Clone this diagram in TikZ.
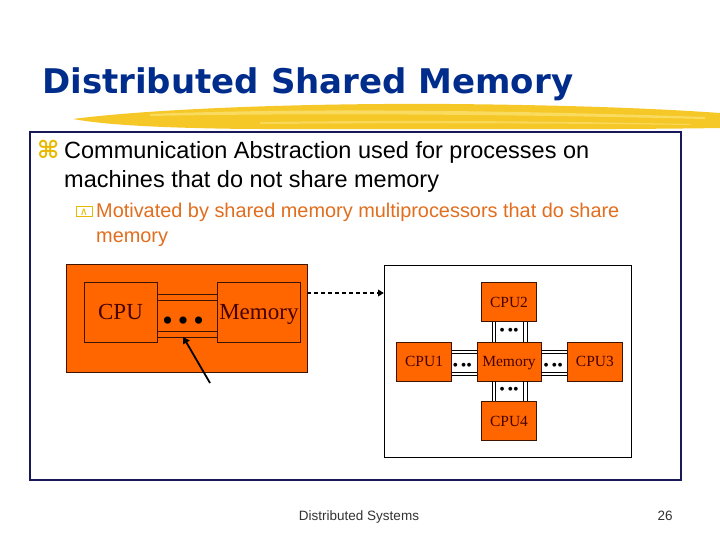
\documentclass[tikz,border=0pt]{standalone}
\usepackage{fontspec}
\setmainfont{Liberation Sans}
\newfontfamily\titlefont{DejaVu Sans}
\newfontfamily\symfont{DejaVu Sans}
\newfontfamily\boxfont{Liberation Serif}
\usepackage{tikz}
\usetikzlibrary{calc,positioning}
\usetikzlibrary{arrows.meta}
\definecolor{titleblue}{RGB}{0,45,140}
\definecolor{framenavy}{RGB}{25,25,90}
\definecolor{chiporange}{RGB}{255,102,0}
\definecolor{boxline}{RGB}{60,20,0}
\definecolor{boxtext}{RGB}{70,0,0}
\definecolor{subtext}{RGB}{225,110,30}
\definecolor{bulletgold}{RGB}{232,185,0}
\definecolor{brushyellow}{RGB}{245,200,40}
\definecolor{brushlight}{RGB}{252,228,120}
\tikzset{
    big chip/.style={
        draw=boxline,fill=chiporange,text=boxtext,
        minimum height=60pt,inner sep=0pt,
        text height=15pt,text depth=0pt,
        font=\boxfont\fontsize{23}{24}\selectfont
    },
    small chip/.style={
        draw=boxline,fill=chiporange,text=boxtext,
        minimum width=55pt,minimum height=39pt,inner sep=0pt,
        text height=10.3pt,text depth=0pt,
        font=\boxfont\fontsize{15.5}{16}\selectfont
    },
    bus wire/.style={draw=boxline,line width=0.9pt},
    thin wire/.style={draw=black,line width=0.8pt},
    dots/.style={inner sep=0pt,font=\boxfont\fontsize{#1}{#1}\selectfont},
    >={[scale=0.8]Triangle}
}
\begin{document}
\begin{tikzpicture}[x=1pt,y=-1pt]
\useasboundingbox[fill=white] (0,0) rectangle (720,540);
% title and brush stroke
\fill[brushyellow] (73,119) .. controls (150,109) and (300,103) .. (450,104)
    .. controls (560,105) and (650,108) .. (720,113) -- (720,128)
    .. controls (600,130) and (400,129) .. (250,129)
    .. controls (150,128) and (100,124) .. (73,119) -- cycle;
\fill[brushlight,opacity=.7] (150,114) .. controls (300,108) and (500,110) .. (705,117)
    -- (705,119) .. controls (500,114) and (300,113) .. (150,116) -- cycle;
\fill[brushlight,opacity=.6] (260,122) .. controls (400,120) and (550,121) .. (690,124)
    -- (690,125) .. controls (550,123) and (400,123) .. (260,124) -- cycle;
\node[anchor=base west,inner sep=0pt,text=titleblue,
    font=\titlefont\bfseries\fontsize{34}{36}\selectfont] (title) at (42,94) {Distributed Shared Memory};
% text frame
\draw[framenavy,line width=1.2pt] (30,132) rectangle (681,480);
\node[anchor=base west,inner sep=0pt,text=bulletgold,font=\symfont\bfseries\fontsize{24}{26}\selectfont] (mark) at (37,159) {⌘};
\node[anchor=base west,inner sep=0pt,font=\fontsize{23.5}{29}\selectfont] (line1) at (64,159) {Communication Abstraction used for processes on};
\node[anchor=base west,inner sep=0pt,font=\fontsize{23.5}{29}\selectfont] (line2) at (64,188) {machines that do not share memory};
\node[draw=bulletgold,line width=1pt,minimum width=16pt,minimum height=10pt,inner sep=0pt,
    text=bulletgold,font=\symfont\fontsize{11}{11}\selectfont] (submark) at (84,212) {∧};
\node[anchor=base west,inner sep=0pt,text=subtext,font=\fontsize{19.9}{24}\selectfont] (sub1) at (96,218) {Motivated by shared memory multiprocessors that do share};
\node[anchor=base west,inner sep=0pt,text=subtext,font=\fontsize{19.9}{24}\selectfont] (sub2) at (96,242) {memory};
% single machine
\node[draw=boxline,fill=chiporange,minimum width=241pt,minimum height=108pt] (machine) at (186.5,318) {};
\node[big chip,minimum width=73pt] (cpu) at (120.5,312) {CPU};
\node[big chip,minimum width=83pt,right=60pt of cpu] (mem) {Memory};
\foreach \off in {18pt,12pt,-19pt,-25pt}
    \draw[bus wire] ([yshift=\off]cpu.east) -- ([yshift=\off]cpu.east -| mem.west);
\node[dots=30] (ldots) at ($(cpu.east)!0.5!(mem.west)+(-4,12)$) {\textbullet\,\textbullet\,\textbullet};
\coordinate (tail) at (210,383);
\draw[line width=1.8pt,->] (tail) -- ([yshift=-13pt]ldots.center);
% multiprocessor
\node[draw,fill=white,minimum width=247pt,minimum height=192pt] (cluster) at (507.5,361) {};
\node[small chip,minimum width=64pt] (smem) at (509,361.5) {Memory};
\node[small chip,above=20pt of smem] (cputwo) {CPU2};
\node[small chip,left=25pt of smem] (cpuone) {CPU1};
\node[small chip,right=26pt of smem] (cputhree) {CPU3};
\node[small chip,below=20pt of smem] (cpufour) {CPU4};
\foreach \a/\b in {cpuone.east/smem.west,smem.east/cputhree.west}
    \foreach \off in {11.5pt,8.5pt,-10.5pt,-13.5pt}
        \draw[thin wire] ([yshift=\off]\a) -- ([yshift=\off]\a -| \b);
\foreach \a/\b in {smem.north/cputwo.south,smem.south/cpufour.north}
    \foreach \off in {-17pt,-14pt,14pt,18pt}
        \draw[thin wire] ([xshift=\off]\a) -- ([xshift=\off]\a |- \b);
\node[dots=16] at ($(cpuone.east)!0.5!(smem.west)+(-2,5)$) {\textbullet\,\textbullet\textbullet};
\node[dots=16] at ($(smem.east)!0.5!(cputhree.west)+(-1,5)$) {\textbullet\,\textbullet\textbullet};
\node[dots=16] at ($(cputwo.south)!0.5!(smem.north)$) {\textbullet\,\textbullet\textbullet};
\node[dots=16] at ($(smem.south)!0.5!(cpufour.north)$) {\textbullet\,\textbullet\textbullet};
\draw[line width=1.5pt,dash pattern=on 4pt off 3pt,->] ([yshift=25pt]machine.east) -- ([yshift=25pt]machine.east -| cluster.west);
% footer
\node[anchor=base,inner sep=0pt,text=black!80,font=\fontsize{13.5}{14}\selectfont] (footer) at (359,520) {Distributed Systems};
\node[anchor=base,inner sep=0pt,text=black!80,font=\fontsize{13.5}{14}\selectfont] (page) at (665,520) {26};
\end{tikzpicture}
\end{document}
